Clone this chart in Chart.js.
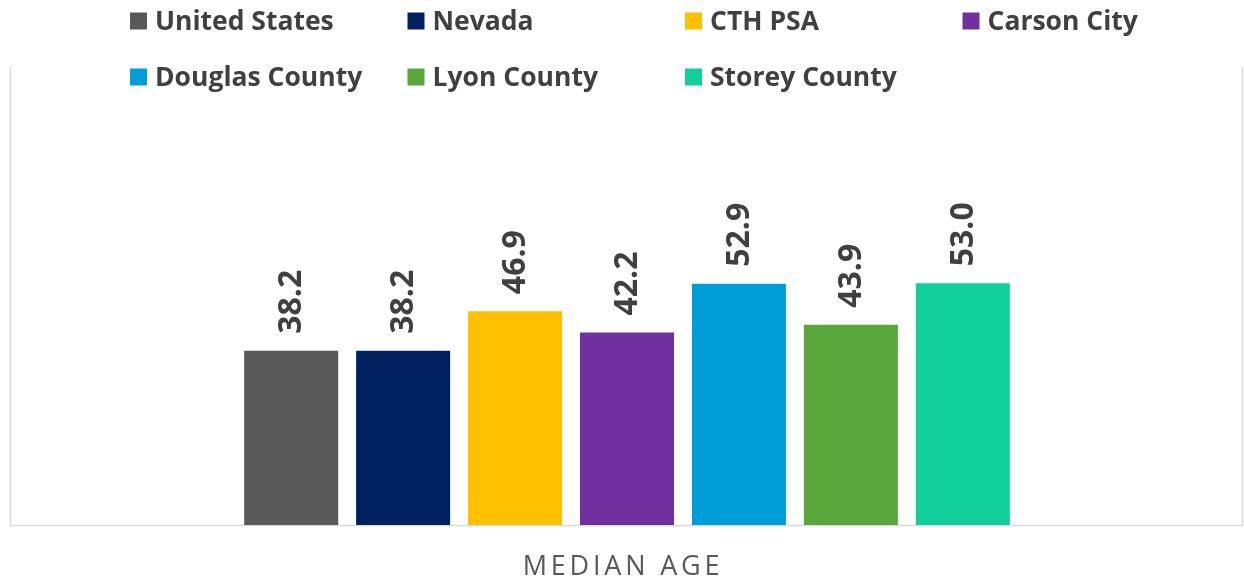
<!DOCTYPE html>
<html>
<head>
<meta charset="utf-8">
<script src="https://cdn.jsdelivr.net/npm/chart.js@4"></script>
<style>
  html, body { margin: 0; padding: 0; background: #fff; }
  #wrap { width: 1244px; height: 579px; position: relative; }
</style>
</head>
<body>
<div id="wrap"><canvas id="mycanvas"></canvas></div>
<script>
// chart data
var categories = ['MEDIAN AGE'];
var seriesNames = ['United States', 'Nevada', 'CTH PSA', 'Carson City', 'Douglas County', 'Lyon County', 'Storey County'];
var medianAge = [38.2, 38.2, 46.9, 42.2, 52.9, 43.9, 53.0];
var seriesColors = ['#595959', '#002060', '#FFC000', '#7030A0', '#009ED9', '#59A63B', '#10CF9B'];

var textColor = '#404040';

var datasets = [];
for (var i = 0; i < seriesNames.length; i++) {
    datasets.push({
        label: seriesNames[i],
        data: [medianAge[i]],
        backgroundColor: seriesColors[i],
        borderWidth: 0
    });
}

// plot frame (left, right, bottom lines like the excel plot area)
var framePlugin = {
    id: 'frame',
    beforeDatasetsDraw: function(chart) {
        var ctx = chart.ctx, a = chart.chartArea;
        ctx.save();
        ctx.strokeStyle = '#d9d9d9';
        ctx.lineWidth = 1.5;
        ctx.beginPath();
        ctx.moveTo(a.left - 0.5, a.top - 2);
        ctx.lineTo(a.left - 0.5, a.bottom + 0.5);
        ctx.lineTo(a.right - 0.5, a.bottom + 0.5);
        ctx.lineTo(a.right - 0.5, a.top - 2);
        ctx.stroke();
        ctx.restore();
    }
};

// rotated value labels above each bar
var valueLabels = {
    id: 'valueLabels',
    afterDatasetsDraw: function(chart) {
        var ctx = chart.ctx;
        ctx.save();
        ctx.font = 'bold 32px "Open Sans"';
        ctx.fillStyle = textColor;
        ctx.textAlign = 'left';
        ctx.textBaseline = 'middle';
        chart.data.datasets.forEach(function(ds, di) {
            var meta = chart.getDatasetMeta(di);
            meta.data.forEach(function(bar, j) {
                ctx.save();
                ctx.translate(bar.x + 1, bar.y - 17);
                ctx.rotate(-Math.PI / 2);
                ctx.fillText(ds.data[j].toFixed(1), 0, 0);
                ctx.restore();
            });
        });
        ctx.restore();
    }
};

// category label under the axis, letter spaced
var categoryLabels = {
    id: 'categoryLabels',
    afterDraw: function(chart) {
        var ctx = chart.ctx, x = chart.scales.x;
        ctx.save();
        ctx.font = '27px "Open Sans"';
        ctx.letterSpacing = '3.8px';
        ctx.fillStyle = '#595959';
        ctx.textAlign = 'center';
        ctx.textBaseline = 'middle';
        chart.data.labels.forEach(function(lbl, i) {
            ctx.fillText(lbl, x.getPixelForTick(i) - 4, 567);
        });
        ctx.restore();
    }
};

// grid legend on top
var gridLegend = {
    id: 'gridLegend',
    afterDraw: function(chart) {
        var ctx = chart.ctx;
        var cols = 4, x0 = 130, colW = 277.5, y0 = 21, rowH = 56, box = 17;
        ctx.save();
        ctx.font = 'bold 26.5px "Open Sans"';
        ctx.textBaseline = 'middle';
        ctx.textAlign = 'left';
        chart.data.datasets.forEach(function(ds, i) {
            var cx = x0 + (i % cols) * colW;
            var cy = y0 + Math.floor(i / cols) * rowH;
            ctx.fillStyle = ds.backgroundColor;
            ctx.fillRect(cx, cy - box / 2, box, box);
            ctx.fillStyle = textColor;
            ctx.fillText(ds.label, cx + 25, cy + 1);
        });
        ctx.restore();
    }
};

var ctx = document.getElementById('mycanvas');
var myChart = new Chart(ctx, {
    type: 'bar',
    data: {
        labels: categories,
        datasets: datasets
    },
    options: {
        responsive: true,
        maintainAspectRatio: false,
        animation: false,
        layout: { padding: { left: 11, right: 1, top: 69, bottom: 54 } },
        plugins: {
            legend: { display: false },
            tooltip: { enabled: false }
        },
        datasets: {
            bar: { categoryPercentage: 0.636, barPercentage: 0.84 }
        },
        scales: {
            x: { display: false },
            y: { display: false, min: 0, max: 100 }
        }
    },
    plugins: [framePlugin, valueLabels, categoryLabels, gridLegend]
});
</script>
</body>
</html>
